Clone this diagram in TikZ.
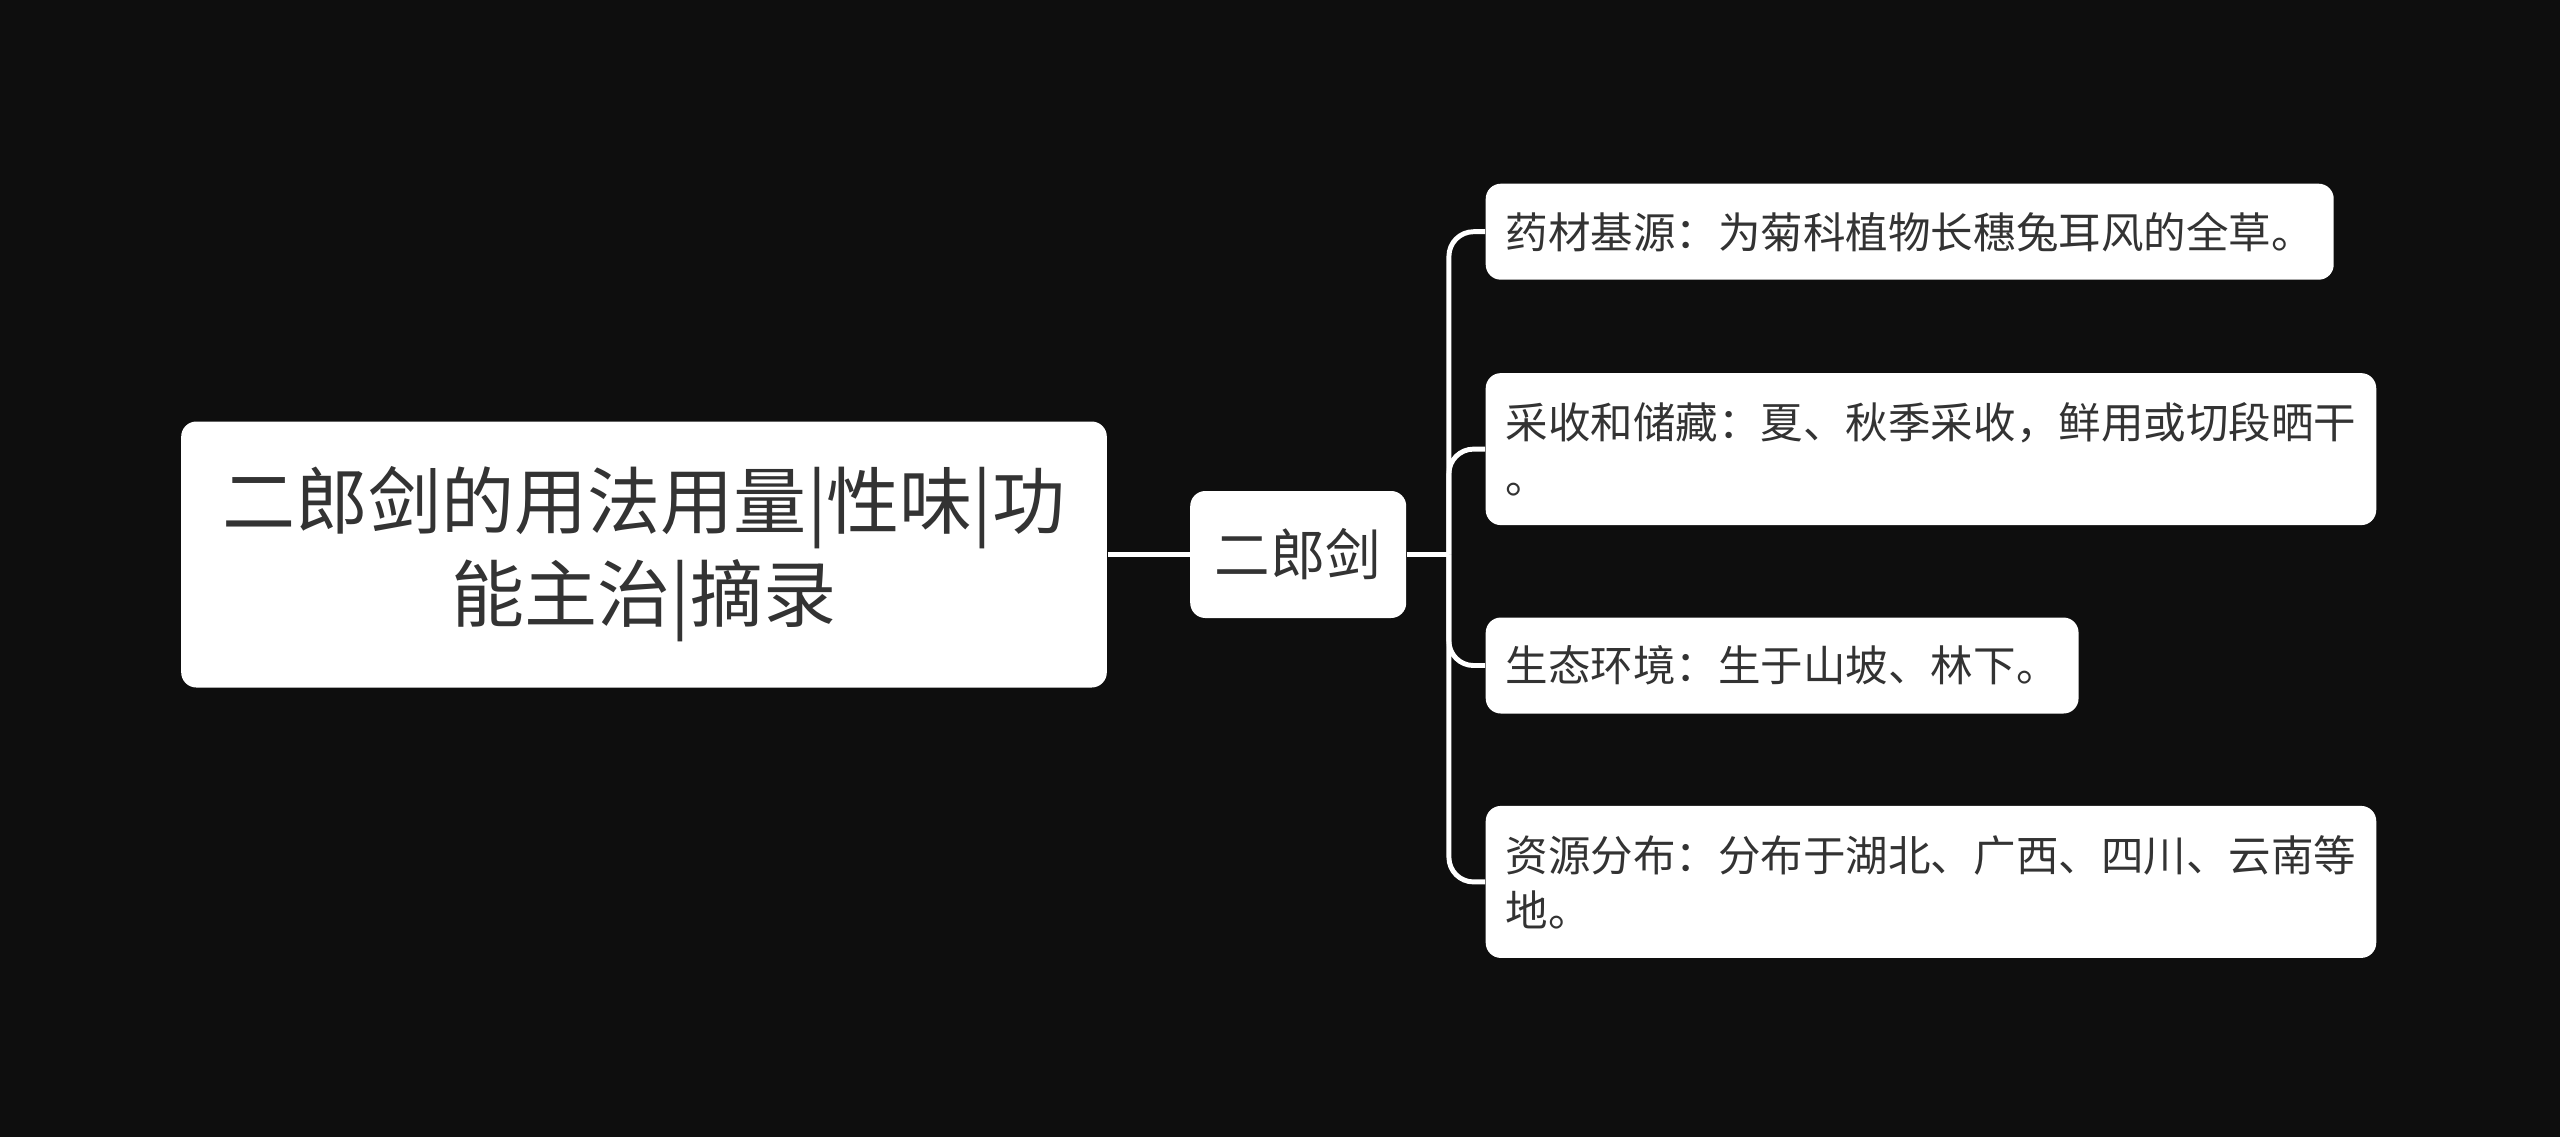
\documentclass[tikz,border=0pt]{standalone}
\usepackage{fontspec}
\setmainfont{Noto Sans CJK SC}
\usetikzlibrary{positioning}
\definecolor{bgdark}{HTML}{0E0E0E}
\definecolor{inkgray}{HTML}{333333}

\begin{document}
\begin{tikzpicture}[
 box/.style={fill=white,rounded corners=4.3pt,text=inkgray,inner ysep=0pt},
 topic/.style={box,align=center,inner xsep=4.1mm,minimum height=26.6mm,font=\fontsize{20.8pt}{26.5pt}\selectfont},
 sub/.style={box,minimum width=21.6mm,minimum height=12.7mm,font=\fontsize{15.8pt}{19pt}\selectfont},
 leaf/.style={box,anchor=north west,align=left,inner xsep=2mm,minimum height=9.6mm,font=\fontsize{12.1pt}{15.65pt}\selectfont},
 twoline/.style={minimum height=15.2mm},
 link/.style={draw=white,line width=1.4pt},
 branch/.style={link,rounded corners=7pt}]
\fill[bgdark] (0,0) rectangle (25.6,-11.37);
\useasboundingbox (0,0) rectangle (25.6,-11.37);

\node[topic] (root) at (6.44,-5.545) {二郎剑的用法用量|性味|功\\能主治|摘录};
\node[sub,right=8.2mm of root] (herb) {二郎剑};
\coordinate[right=4.2mm of herb.east] (fork);

\node[leaf] (source) at (14.85,-1.83) {药材基源：为菊科植物长穗兔耳风的全草。};
\node[leaf,twoline,below=9.2mm of source.south west,anchor=north west] (harvest) {采收和储藏：夏、秋季采收，鲜用或切段晒干\\。};
\node[leaf,below=9.1mm of harvest.south west,anchor=north west] (habitat) {生态环境：生于山坡、林下。};
\node[leaf,twoline,below=9.1mm of habitat.south west,anchor=north west] (range) {资源分布：分布于湖北、广西、四川、云南等\\地。};

\draw[link] (root) -- (herb);
\draw[link] (herb) -- (fork);
\foreach \leafname in {source,harvest,habitat,range}
  \draw[branch] (fork) |- (\leafname.west);
\end{tikzpicture}
\end{document}
